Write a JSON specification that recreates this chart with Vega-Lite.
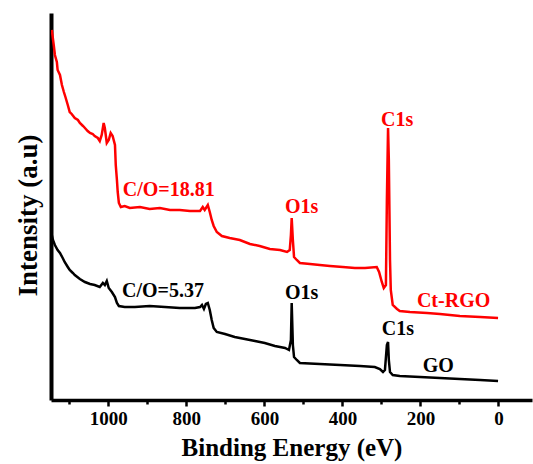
{
  "$schema": "https://vega.github.io/schema/vega-lite/v6.json",
  "width": 481,
  "height": 387,
  "autosize": {"type": "none"},
  "padding": {"left": 51, "top": 13, "right": 1, "bottom": 64},
  "background": "white",
  "config": {"view": {"stroke": null}, "font": "Liberation Serif"},
  "datasets": {
    "spectra": [
      {"series": "Ct-RGO", "E": 1145, "I": 370}, {"series": "Ct-RGO", "E": 1140, "I": 355}, {"series": "Ct-RGO", "E": 1137, "I": 345},
      {"series": "Ct-RGO", "E": 1132, "I": 338}, {"series": "Ct-RGO", "E": 1130, "I": 330}, {"series": "Ct-RGO", "E": 1124, "I": 325},
      {"series": "Ct-RGO", "E": 1119, "I": 315}, {"series": "Ct-RGO", "E": 1114, "I": 308}, {"series": "Ct-RGO", "E": 1110, "I": 303},
      {"series": "Ct-RGO", "E": 1104, "I": 295}, {"series": "Ct-RGO", "E": 1099, "I": 288}, {"series": "Ct-RGO", "E": 1094, "I": 286},
      {"series": "Ct-RGO", "E": 1086, "I": 282}, {"series": "Ct-RGO", "E": 1078, "I": 280}, {"series": "Ct-RGO", "E": 1073, "I": 277},
      {"series": "Ct-RGO", "E": 1065, "I": 274}, {"series": "Ct-RGO", "E": 1060, "I": 272}, {"series": "Ct-RGO", "E": 1053, "I": 269},
      {"series": "Ct-RGO", "E": 1047, "I": 267}, {"series": "Ct-RGO", "E": 1040, "I": 266}, {"series": "Ct-RGO", "E": 1035, "I": 264},
      {"series": "Ct-RGO", "E": 1027, "I": 262}, {"series": "Ct-RGO", "E": 1022, "I": 259}, {"series": "Ct-RGO", "E": 1017, "I": 265},
      {"series": "Ct-RGO", "E": 1012, "I": 277}, {"series": "Ct-RGO", "E": 1009, "I": 272}, {"series": "Ct-RGO", "E": 1004, "I": 257},
      {"series": "Ct-RGO", "E": 999, "I": 260}, {"series": "Ct-RGO", "E": 994, "I": 267}, {"series": "Ct-RGO", "E": 989, "I": 264},
      {"series": "Ct-RGO", "E": 983, "I": 255}, {"series": "Ct-RGO", "E": 981, "I": 235}, {"series": "Ct-RGO", "E": 978, "I": 220},
      {"series": "Ct-RGO", "E": 976, "I": 208}, {"series": "Ct-RGO", "E": 973, "I": 197}, {"series": "Ct-RGO", "E": 968, "I": 193},
      {"series": "Ct-RGO", "E": 958, "I": 194}, {"series": "Ct-RGO", "E": 945, "I": 192}, {"series": "Ct-RGO", "E": 919, "I": 193},
      {"series": "Ct-RGO", "E": 894, "I": 191}, {"series": "Ct-RGO", "E": 868, "I": 192}, {"series": "Ct-RGO", "E": 842, "I": 190},
      {"series": "Ct-RGO", "E": 817, "I": 190}, {"series": "Ct-RGO", "E": 791, "I": 189}, {"series": "Ct-RGO", "E": 765, "I": 189},
      {"series": "Ct-RGO", "E": 758, "I": 193}, {"series": "Ct-RGO", "E": 753, "I": 190}, {"series": "Ct-RGO", "E": 745, "I": 195},
      {"series": "Ct-RGO", "E": 740, "I": 188}, {"series": "Ct-RGO", "E": 735, "I": 180}, {"series": "Ct-RGO", "E": 730, "I": 174},
      {"series": "Ct-RGO", "E": 722, "I": 168}, {"series": "Ct-RGO", "E": 709, "I": 164}, {"series": "Ct-RGO", "E": 689, "I": 162},
      {"series": "Ct-RGO", "E": 663, "I": 160}, {"series": "Ct-RGO", "E": 637, "I": 156}, {"series": "Ct-RGO", "E": 612, "I": 154},
      {"series": "Ct-RGO", "E": 586, "I": 151}, {"series": "Ct-RGO", "E": 560, "I": 150}, {"series": "Ct-RGO", "E": 542, "I": 148},
      {"series": "Ct-RGO", "E": 535, "I": 150}, {"series": "Ct-RGO", "E": 532, "I": 165}, {"series": "Ct-RGO", "E": 530, "I": 182},
      {"series": "Ct-RGO", "E": 527, "I": 160}, {"series": "Ct-RGO", "E": 524, "I": 143}, {"series": "Ct-RGO", "E": 517, "I": 140},
      {"series": "Ct-RGO", "E": 509, "I": 137}, {"series": "Ct-RGO", "E": 483, "I": 136}, {"series": "Ct-RGO", "E": 458, "I": 135},
      {"series": "Ct-RGO", "E": 432, "I": 134}, {"series": "Ct-RGO", "E": 399, "I": 133}, {"series": "Ct-RGO", "E": 368, "I": 132},
      {"series": "Ct-RGO", "E": 342, "I": 132}, {"series": "Ct-RGO", "E": 312, "I": 133}, {"series": "Ct-RGO", "E": 306, "I": 128},
      {"series": "Ct-RGO", "E": 299, "I": 118}, {"series": "Ct-RGO", "E": 294, "I": 112}, {"series": "Ct-RGO", "E": 288.5, "I": 115},
      {"series": "Ct-RGO", "E": 286, "I": 200}, {"series": "Ct-RGO", "E": 283, "I": 272}, {"series": "Ct-RGO", "E": 281, "I": 240},
      {"series": "Ct-RGO", "E": 278, "I": 140}, {"series": "Ct-RGO", "E": 276, "I": 110}, {"series": "Ct-RGO", "E": 271, "I": 95},
      {"series": "Ct-RGO", "E": 260, "I": 91}, {"series": "Ct-RGO", "E": 253, "I": 89}, {"series": "Ct-RGO", "E": 227, "I": 88},
      {"series": "Ct-RGO", "E": 183, "I": 87}, {"series": "Ct-RGO", "E": 150, "I": 86}, {"series": "Ct-RGO", "E": 99, "I": 84},
      {"series": "Ct-RGO", "E": 47, "I": 83}, {"series": "Ct-RGO", "E": 1, "I": 82},
      {"series": "GO", "E": 1145, "I": 165}, {"series": "GO", "E": 1142, "I": 160}, {"series": "GO", "E": 1137, "I": 155},
      {"series": "GO", "E": 1130, "I": 150}, {"series": "GO", "E": 1124, "I": 147}, {"series": "GO", "E": 1117, "I": 142},
      {"series": "GO", "E": 1112, "I": 138}, {"series": "GO", "E": 1104, "I": 133}, {"series": "GO", "E": 1099, "I": 130},
      {"series": "GO", "E": 1091, "I": 127}, {"series": "GO", "E": 1086, "I": 125}, {"series": "GO", "E": 1073, "I": 121},
      {"series": "GO", "E": 1060, "I": 118}, {"series": "GO", "E": 1047, "I": 116}, {"series": "GO", "E": 1035, "I": 115},
      {"series": "GO", "E": 1022, "I": 113}, {"series": "GO", "E": 1014, "I": 117}, {"series": "GO", "E": 1009, "I": 115},
      {"series": "GO", "E": 1004, "I": 119}, {"series": "GO", "E": 999, "I": 112}, {"series": "GO", "E": 991, "I": 108},
      {"series": "GO", "E": 983, "I": 103}, {"series": "GO", "E": 978, "I": 97}, {"series": "GO", "E": 973, "I": 94},
      {"series": "GO", "E": 958, "I": 93}, {"series": "GO", "E": 932, "I": 93}, {"series": "GO", "E": 894, "I": 94},
      {"series": "GO", "E": 855, "I": 93}, {"series": "GO", "E": 817, "I": 92}, {"series": "GO", "E": 778, "I": 92},
      {"series": "GO", "E": 765, "I": 93}, {"series": "GO", "E": 760, "I": 95}, {"series": "GO", "E": 755, "I": 91},
      {"series": "GO", "E": 750, "I": 96}, {"series": "GO", "E": 745, "I": 97}, {"series": "GO", "E": 740, "I": 90},
      {"series": "GO", "E": 735, "I": 80}, {"series": "GO", "E": 730, "I": 72}, {"series": "GO", "E": 722, "I": 68},
      {"series": "GO", "E": 701, "I": 66}, {"series": "GO", "E": 676, "I": 63}, {"series": "GO", "E": 650, "I": 61},
      {"series": "GO", "E": 624, "I": 59}, {"series": "GO", "E": 599, "I": 57}, {"series": "GO", "E": 573, "I": 54},
      {"series": "GO", "E": 547, "I": 52}, {"series": "GO", "E": 537, "I": 50}, {"series": "GO", "E": 532, "I": 60},
      {"series": "GO", "E": 530, "I": 97}, {"series": "GO", "E": 527, "I": 55}, {"series": "GO", "E": 524, "I": 43},
      {"series": "GO", "E": 517, "I": 40}, {"series": "GO", "E": 509, "I": 37}, {"series": "GO", "E": 458, "I": 36},
      {"series": "GO", "E": 406, "I": 35}, {"series": "GO", "E": 355, "I": 34}, {"series": "GO", "E": 317, "I": 33},
      {"series": "GO", "E": 304, "I": 31}, {"series": "GO", "E": 296, "I": 28}, {"series": "GO", "E": 291, "I": 30},
      {"series": "GO", "E": 286, "I": 55}, {"series": "GO", "E": 283, "I": 58}, {"series": "GO", "E": 281, "I": 40},
      {"series": "GO", "E": 278, "I": 28}, {"series": "GO", "E": 271, "I": 25}, {"series": "GO", "E": 253, "I": 24},
      {"series": "GO", "E": 201, "I": 23}, {"series": "GO", "E": 150, "I": 22}, {"series": "GO", "E": 99, "I": 21},
      {"series": "GO", "E": 47, "I": 20}, {"series": "GO", "E": 1, "I": 19}
    ],
    "labels": [
      {"series": "Ct-RGO", "E": 963, "I": 204, "label": "C/O=18.81"},
      {"series": "Ct-RGO", "E": 547, "I": 187, "label": "O1s"},
      {"series": "Ct-RGO", "E": 301, "I": 274, "label": "C1s"},
      {"series": "Ct-RGO", "E": 209, "I": 93, "label": "Ct-RGO"},
      {"series": "GO", "E": 965, "I": 103, "label": "C/O=5.37"},
      {"series": "GO", "E": 547, "I": 101, "label": "O1s"},
      {"series": "GO", "E": 299, "I": 65, "label": "C1s"},
      {"series": "GO", "E": 194, "I": 28, "label": "GO"}
    ]
  },
  "encoding": {
    "x": {
      "field": "E", "type": "quantitative",
      "scale": {"domain": [-86, 1147], "reverse": true, "nice": false, "zero": false},
      "axis": {
        "title": "Binding Energy (eV)",
        "values": [0, 100, 200, 300, 400, 500, 600, 700, 800, 900, 1000, 1100],
        "labelExpr": "datum.value % 200 === 0 ? datum.label : ''",
        "format": "d",
        "grid": false,
        "domainColor": "black", "domainWidth": 3.5,
        "tickColor": "black", "tickWidth": 2.5,
        "tickSize": {"condition": {"test": "datum.value % 200 === 0", "value": 6}, "value": 4},
        "labelFont": "Liberation Serif", "labelFontSize": 19, "labelFontWeight": "bold", "labelColor": "black",
        "labelPadding": 3, "labelOverlap": false, "labelFlush": false,
        "titleFont": "Liberation Serif", "titleFontSize": 25, "titleFontWeight": "bold", "titleColor": "black",
        "titlePadding": 7
      }
    },
    "y": {
      "field": "I", "type": "quantitative",
      "scale": {"domain": [0, 387], "nice": false, "zero": false},
      "axis": {
        "title": "Intensity (a.u)", "ticks": false, "labels": false, "grid": false,
        "domainColor": "black", "domainWidth": 4,
        "titleFont": "Liberation Serif", "titleFontSize": 27, "titleFontWeight": "bold", "titleColor": "black",
        "titlePadding": 9, "titleY": 202
      }
    },
    "color": {
      "field": "series", "type": "nominal",
      "scale": {"domain": ["Ct-RGO", "GO"], "range": ["#ff0000", "#000000"]},
      "legend": null
    }
  },
  "layer": [
    {
      "data": {"name": "spectra"},
      "mark": {"type": "line", "strokeWidth": 2.5, "clip": true}
    },
    {
      "data": {"name": "labels"},
      "mark": {"type": "text", "align": "left", "baseline": "alphabetic", "font": "Liberation Serif", "fontSize": 20, "fontWeight": "bold"},
      "encoding": {"text": {"field": "label", "type": "nominal"}}
    }
  ]
}
